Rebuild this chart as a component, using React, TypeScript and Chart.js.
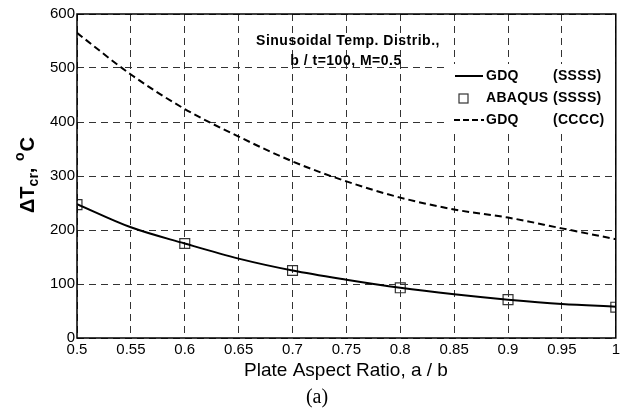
import React, { useEffect, useRef } from "react";
import { Chart, registerables } from "chart.js";

Chart.register(...registerables);

const aspect = [0.5, 0.55, 0.6, 0.65, 0.7, 0.75, 0.8, 0.85, 0.9, 0.95, 1.0];
const gdqSSSS = [248, 205, 175, 147, 125, 108, 93, 81, 71, 63, 58];
const gdqCCCC = [565, 488, 424, 373, 327, 290, 260, 238, 223, 203, 183];
const abaqusX = [0.5, 0.6, 0.7, 0.8, 0.9, 1.0];
const abaqusSSSS = [247, 175, 125, 93, 71, 57];
const xTickLabels = ["0.5", "0.55", "0.6", "0.65", "0.7", "0.75", "0.8", "0.85", "0.9", "0.95", "1"];
const yTickLabels = ["0", "100", "200", "300", "400", "500", "600"];
const legendNames = ["GDQ", "ABAQUS", "GDQ"];
const legendCases = ["(SSSS)", "(SSSS)", "(CCCC)"];
const noteLines = ["Sinusoidal Temp. Distrib.,", "b / t=100, M=0.5"];
const xTitle = "Plate Aspect Ratio, a / b";
const caption = "(a)";

const SANS = "Arial, 'Liberation Sans', sans-serif";

const decorPlugin = {
  id: "decor",
  beforeDatasetsDraw(chart: any) {
    const { ctx, chartArea: a } = chart;
    ctx.save();
    ctx.fillStyle = "#fff";
    ctx.fillRect(447, 64, a.right - 447, 66);
    ctx.restore();
  },
  afterDraw(chart: any) {
    const { ctx, chartArea: a } = chart;
    ctx.save();
    ctx.strokeStyle = "#000";
    ctx.lineWidth = 1.5;
    ctx.setLineDash([]);
    ctx.strokeRect(a.left, a.top, a.right - a.left, a.bottom - a.top);

    // annotation
    ctx.fillStyle = "#000";
    ctx.font = "bold 14px " + SANS;
    ctx.textAlign = "center";
    ctx.textBaseline = "middle";
    (ctx as any).letterSpacing = "0.5px";
    ctx.fillText(noteLines[0], 348, 41);
    ctx.fillText(noteLines[1], 346, 61);

    // legend
    const rows = [76, 98, 120];
    ctx.textAlign = "left";
    ctx.font = "bold 14px " + SANS;
    (ctx as any).letterSpacing = "0.3px";
    for (let i = 0; i < 3; i++) {
      ctx.fillStyle = "#000";
      ctx.fillText(legendNames[i], 486, rows[i]);
      ctx.fillText(legendCases[i], 553, rows[i]);
    }
    (ctx as any).letterSpacing = "0px";
    ctx.strokeStyle = "#000";
    ctx.lineWidth = 2;
    ctx.beginPath();
    ctx.moveTo(455, rows[0]);
    ctx.lineTo(483, rows[0]);
    ctx.stroke();
    ctx.setLineDash([6, 3]);
    ctx.beginPath();
    ctx.moveTo(454, rows[2]);
    ctx.lineTo(484, rows[2]);
    ctx.stroke();
    ctx.setLineDash([]);
    ctx.lineWidth = 1.2;
    ctx.strokeStyle = "#333";
    ctx.strokeRect(459, rows[1] - 4, 9, 9);

    // x title
    ctx.fillStyle = "#000";
    ctx.font = "19px " + SANS;
    ctx.textAlign = "center";
    ctx.fillText(xTitle, 346, 371);
    ctx.font = "20px 'Liberation Serif', 'Times New Roman', serif";
    ctx.fillText(caption, 317, 398);

    // y title: ΔT_cr, °C rotated
    ctx.translate(26, 177);
    ctx.rotate(-Math.PI / 2);
    ctx.textAlign = "left";
    ctx.textBaseline = "alphabetic";
    const big = "bold 20px " + SANS;
    const small = "bold 14px " + SANS;
    let x = -36;
    const base = 8;
    ctx.font = big;
    ctx.fillText("\u0394T", x, base);
    x += ctx.measureText("\u0394T").width;
    ctx.font = small;
    ctx.fillText("cr", x, base + 4);
    x += ctx.measureText("cr").width;
    ctx.font = big;
    ctx.fillText(",", x, base);
    x += ctx.measureText(", ").width + 1;
    ctx.font = small;
    ctx.fillText("o", x, base - 10);
    x += ctx.measureText("o").width + 1;
    ctx.font = big;
    ctx.fillText("C", x, base);
    ctx.restore();
  },
};

export default function App() {
  const ref = useRef<HTMLCanvasElement>(null);
  useEffect(() => {
    document.body.style.margin = "0";
    const chart = new Chart(ref.current as HTMLCanvasElement, {
      type: "line",
      data: {
        datasets: [
          {
            label: "GDQ (SSSS)",
            data: aspect.map((x, i) => ({ x, y: gdqSSSS[i] })),
            borderColor: "#000",
            borderWidth: 2,
            pointRadius: 0,
            cubicInterpolationMode: "monotone",
            fill: false,
          },
          {
            label: "ABAQUS (SSSS)",
            data: abaqusX.map((x, i) => ({ x, y: abaqusSSSS[i] })),
            showLine: false,
            pointStyle: "rect",
            pointRadius: 7,
            borderColor: "#333",
            borderWidth: 1.2,
            backgroundColor: "rgba(0,0,0,0)",
          },
          {
            label: "GDQ (CCCC)",
            data: aspect.map((x, i) => ({ x, y: gdqCCCC[i] })),
            borderColor: "#000",
            borderWidth: 2,
            borderDash: [7, 4],
            pointRadius: 0,
            cubicInterpolationMode: "monotone",
            fill: false,
          },
        ],
      },
      options: {
        responsive: false,
        animation: false,
        layout: { padding: { left: 0, right: 8, top: 14, bottom: 0 } },
        plugins: { legend: { display: false }, tooltip: { enabled: false } },
        scales: {
          x: {
            type: "linear",
            min: 0.5,
            max: 1,
            ticks: {
              stepSize: 0.05,
              padding: 3,
              color: "#000",
              font: { family: SANS, size: 15 },
              maxRotation: 0,
              autoSkip: false,
              callback: (_v: any, i: number) => xTickLabels[i],
            },
            grid: { color: "#333", lineWidth: 1, drawTicks: false },
            border: { display: false, dash: [7, 5] },
            afterFit: (s: any) => {
              s.height = 73;
            },
          },
          y: {
            min: 0,
            max: 600,
            ticks: {
              stepSize: 100,
              padding: 2,
              color: "#000",
              font: { family: SANS, size: 15 },
              callback: (_v: any, i: number) => yTickLabels[i],
            },
            grid: { color: "#333", lineWidth: 1, drawTicks: false },
            border: { display: false, dash: [7, 5] },
            afterFit: (s: any) => {
              s.width = 77;
            },
          },
        },
      },
      plugins: [decorPlugin],
    } as any);
    return () => chart.destroy();
  }, []);
  return (
    <div style={{ width: 624, height: 411, background: "#fff" }}>
      <canvas ref={ref} width={624} height={411} />
    </div>
  );
}
